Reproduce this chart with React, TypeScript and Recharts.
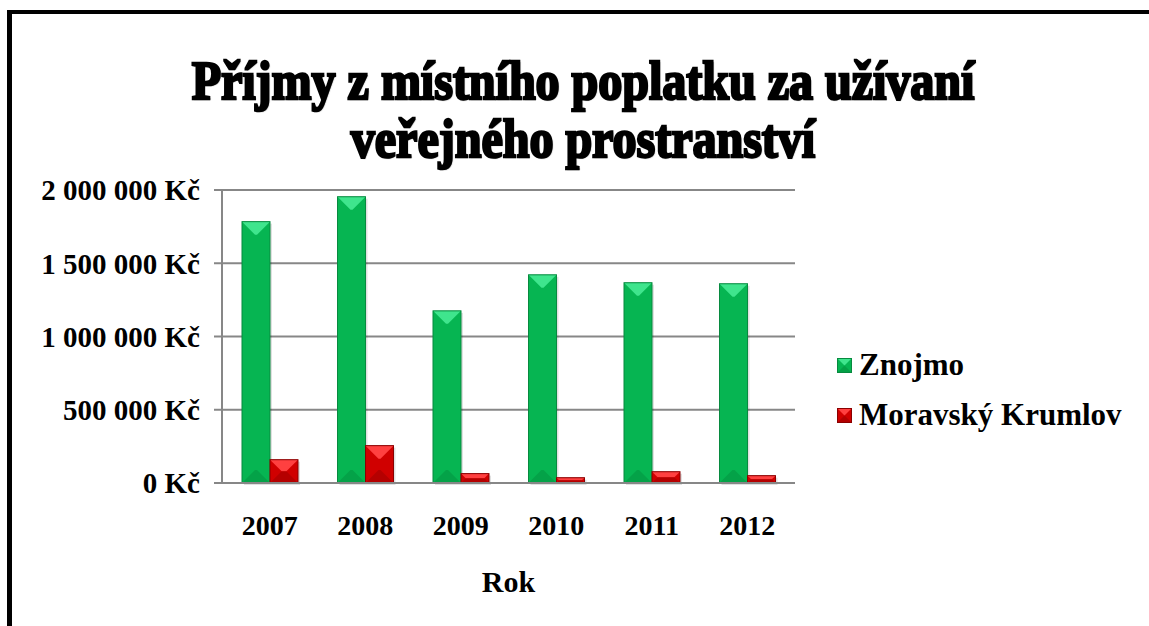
import { BarChart, Bar, XAxis, YAxis, CartesianGrid, Label } from "recharts";

const years = ["2007", "2008", "2009", "2010", "2011", "2012"];
const znojmo = [1784000, 1954000, 1175000, 1421000, 1367000, 1360000];
const moravskyKrumlov = [159000, 255000, 64000, 36000, 77000, 50000];
const yTicks = [0, 500000, 1000000, 1500000, 2000000];

const data = years.map((year, i) => ({
  year,
  znojmo: znojmo[i],
  krumlov: moravskyKrumlov[i],
}));

const FONT = '"Liberation Serif", "Times New Roman", serif';

const SERIES = [
  { key: "znojmo", label: "Znojmo", fill: "#06b552", light: "#3fe58d", dark: "#049240", edge: "#078a3f" },
  { key: "krumlov", label: "Moravský Krumlov", fill: "#d00000", light: "#ff4040", dark: "#9e0000", edge: "#8a0000" },
];

const formatKc = (v: number) =>
  `${String(v).replace(/\B(?=(\d{3})+(?!\d))/g, " ")} Kč`;

function BevelBar(props: any) {
  const { x, y, width, height, fill, light, dark, edge } = props;
  if (!height || height <= 0) return null;
  const b = Math.min(width / 2 - 1, height / 2, 13);
  const x2 = x + width;
  const y2 = y + height;
  return (
    <g>
      <rect x={x + 2} y={y + 2} width={width} height={height} fill="#000" opacity={0.12} />
      <rect x={x} y={y} width={width} height={height} fill={fill} />
      <polygon points={`${x},${y} ${x2},${y} ${x2 - b},${y + b} ${x + b},${y + b}`} fill={light} />
      <polygon points={`${x},${y2} ${x2},${y2} ${x2 - b},${y2 - b} ${x + b},${y2 - b}`} fill={dark} opacity={0.55} />
      <rect x={x} y={y} width={width} height={height} fill="none" stroke={edge} strokeWidth={1} />
    </g>
  );
}

function LegendMarker({ s }: { s: (typeof SERIES)[number] }) {
  return (
    <svg width={15} height={15} style={{ display: "block" }}>
      <rect x={0} y={0} width={15} height={15} fill={s.fill} />
      <polygon points="0,0 15,0 7.5,7.5" fill={s.light} />
      <polygon points="0,15 15,15 7.5,7.5" fill={s.dark} opacity={0.6} />
      <rect x={0.5} y={0.5} width={14} height={14} fill="none" stroke={s.edge} />
    </svg>
  );
}

export default function App() {
  return (
    <div style={{ position: "absolute", left: 0, top: 0, width: 1149, height: 626, background: "#fff", overflow: "hidden" }}>
      <div
        style={{
          position: "absolute",
          left: 7,
          top: 10,
          width: 1142,
          height: 616,
          borderTop: "4px solid #000",
          borderLeft: "5px solid #000",
          boxSizing: "border-box",
        }}
      />
      <div
        style={{
          position: "absolute",
          left: 0,
          top: 52,
          width: 1166,
          textAlign: "center",
          fontFamily: FONT,
          fontWeight: "bold",
          fontSize: 48,
          lineHeight: "50px",
          color: "#000",
          WebkitTextStroke: "2.2px #000",
          textShadow: "1px 1px 1px #555",
          transform: "scaleY(1.15)",
          transformOrigin: "50% 0",
        }}
      >
        Příjmy z místního poplatku za užívaní
        <br />
        veřejného prostranství
      </div>
      <div style={{ position: "absolute", left: 0, top: 0 }}>
        <BarChart
          width={1149}
          height={626}
          data={data}
          margin={{ top: 190, right: 354, bottom: 83, left: 12 }}
          barGap={0}
          barSize={28}
        >
          <CartesianGrid vertical={false} stroke="#878787" strokeWidth={2} />
          <XAxis
            dataKey="year"
            height={60}
            axisLine={{ stroke: "#878787", strokeWidth: 2 }}
            tickLine={false}
            tickSize={0}
            tickMargin={32}
            tick={{ fill: "#000", fontFamily: FONT, fontWeight: "bold", fontSize: 28 }}
          >
            <Label
              value="Rok"
              position="bottom"
              offset={28}
              style={{ fill: "#000", fontFamily: FONT, fontWeight: "bold", fontSize: 30 }}
            />
          </XAxis>
          <YAxis
            width={210}
            domain={[0, 2000000]}
            ticks={yTicks}
            interval={0}
            tickFormatter={formatKc}
            axisLine={{ stroke: "#878787", strokeWidth: 2 }}
            tickLine={{ stroke: "#878787", strokeWidth: 2 }}
            tickSize={8}
            tickMargin={14}
            tick={{ fill: "#000", fontFamily: FONT, fontWeight: "bold", fontSize: 29 }}
          />
          {SERIES.map((s) => (
            <Bar
              key={s.key}
              dataKey={s.key}
              name={s.label}
              fill={s.fill}
              isAnimationActive={false}
              shape={(p: any) => <BevelBar {...p} light={s.light} dark={s.dark} edge={s.edge} />}
            />
          ))}
        </BarChart>
      </div>
      <div
        style={{
          position: "absolute",
          left: 837,
          top: 340,
          fontFamily: FONT,
          fontWeight: "bold",
          fontSize: 31,
          color: "#000",
        }}
      >
        {SERIES.map((s) => (
          <div key={s.key} style={{ display: "flex", alignItems: "center", height: 50 }}>
            <LegendMarker s={s} />
            <span style={{ marginLeft: 7, whiteSpace: "nowrap" }}>{s.label}</span>
          </div>
        ))}
      </div>
    </div>
  );
}
